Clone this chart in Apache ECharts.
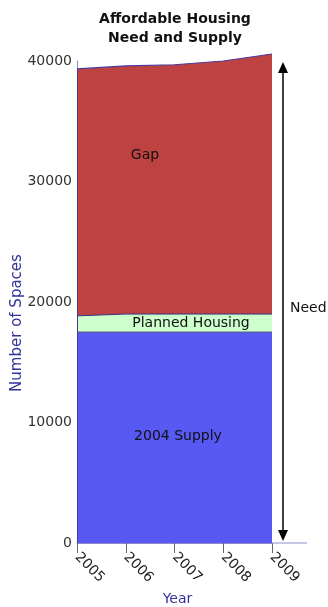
<!DOCTYPE html>
<html><head><meta charset="utf-8">
<script src="https://cdn.jsdelivr.net/npm/echarts@6/dist/echarts.min.js"></script>
<style>html,body{margin:0;padding:0;background:#fff}#c{width:328px;height:607px}</style>
</head><body><div id="c"></div>
<script>
var years = ['2005','2006','2007','2008','2009'];
var supply = [17500,17500,17500,17500,17500];
var planned = [1350,1500,1500,1500,1500];
var gap = [20490,20590,20690,21000,21580];
var need = [39340,39590,39690,40000,40580];
var yTicks = [0,10000,20000,30000,40000];

var FONT = 'DejaVu Sans';
var outline = '#333380';
var axisCol = '#8a8acc';
var chart = echarts.init(document.getElementById('c'), null, {renderer:'canvas'});
chart.setOption({
  animation:false,
  backgroundColor:'#fff',
  title:{text:'Affordable Housing\nNeed and Supply', left:170, textAlign:'center', top:5,
    textStyle:{fontFamily:FONT, fontSize:14, fontWeight:'bold', color:'#111', lineHeight:19}},
  grid:{left:77, right:56, top:61, bottom:64, containLabel:false, outerBoundsMode:'none'},
  xAxis:{type:'category', data:years, boundaryGap:false,
    name:'Year', nameLocation:'middle', nameGap:47,
    nameTextStyle:{fontFamily:FONT, fontSize:14, color:'#333399', padding:[0,0,0,6]},
    axisLine:{lineStyle:{color:axisCol, width:1}},
    axisTick:{show:true, length:10, lineStyle:{color:'#666'}},
    axisLabel:{rotate:-45, margin:12, fontFamily:FONT, fontSize:14, color:'#222'},
    splitLine:{show:false}},
  yAxis:{type:'value', min:0, max:40000, interval:10000,
    axisLine:{show:true, lineStyle:{color:axisCol, width:1}},
    axisTick:{show:false},
    axisLabel:{margin:5, fontFamily:FONT, fontSize:14, color:'#333',
      formatter:function(v){return yTicks.indexOf(v)>=0?String(v):'';}},
    splitLine:{show:false}},
  series:[
    {name:'2004 Supply', type:'line', stack:'s', data:supply, symbol:'none', clip:false,
     lineStyle:{color:outline, width:1}, areaStyle:{color:'#5858F2', opacity:1}, z:2},
    {name:'Planned Housing', type:'line', stack:'s', data:planned, symbol:'none', clip:false,
     lineStyle:{color:outline, width:1}, areaStyle:{color:'#CCFFCC', opacity:1}, z:2},
    {name:'Gap', type:'line', stack:'s', data:gap, symbol:'none', clip:false,
     lineStyle:{color:'#4a3a9a', width:1.2}, areaStyle:{color:'#BF4242', opacity:1}, z:2,
     markLine:{silent:true, symbol:'none', animation:false, label:{show:false},
       lineStyle:{color:'#4a3a9a', width:1, type:'solid'},
       data:[[{coord:[years[4],0]},{coord:[years[4],need[4]]}],
             [{coord:[years[0],0]},{coord:[years[0],need[0]]}]]}}
  ]
});

var x4 = chart.convertToPixel({xAxisIndex:0}, years[4]);
var yZero = chart.convertToPixel({yAxisIndex:0}, 0);
var yTop = chart.convertToPixel({yAxisIndex:0}, 40000);
var ax = x4 + 11;
var ts = {fontFamily:FONT, fontSize:14, fill:'#111'};
function txt(x, y, s, align){
  return {type:'text', x:x, y:y, style:Object.assign({text:s, align:align||'center', verticalAlign:'middle'}, ts), z:10};
}
chart.setOption({graphic:[
  {type:'text', x:17, y:323, rotation:Math.PI/2,
   style:{text:'Number of Spaces', align:'center', verticalAlign:'middle', fontFamily:FONT, fontSize:15, fill:'#333399'}, z:10},
  {type:'line', shape:{x1:x4, y1:yZero, x2:x4+35, y2:yZero}, style:{stroke:axisCol, lineWidth:1}, z:5},
  {type:'line', shape:{x1:ax, y1:yTop+8, x2:ax, y2:yZero-8}, style:{stroke:'#000', lineWidth:1.5}, z:10},
  {type:'polygon', shape:{points:[[ax,yTop+1],[ax-5,yTop+12],[ax+5,yTop+12]]}, style:{fill:'#000'}, z:10},
  {type:'polygon', shape:{points:[[ax,yZero-2],[ax-5,yZero-13],[ax+5,yZero-13]]}, style:{fill:'#000'}, z:10},
  txt(ax+7, 308, 'Need', 'left'),
  txt(145, 155, 'Gap'),
  txt(191, 323, 'Planned Housing'),
  txt(178, 436, '2004 Supply')
]});
</script></body></html>
